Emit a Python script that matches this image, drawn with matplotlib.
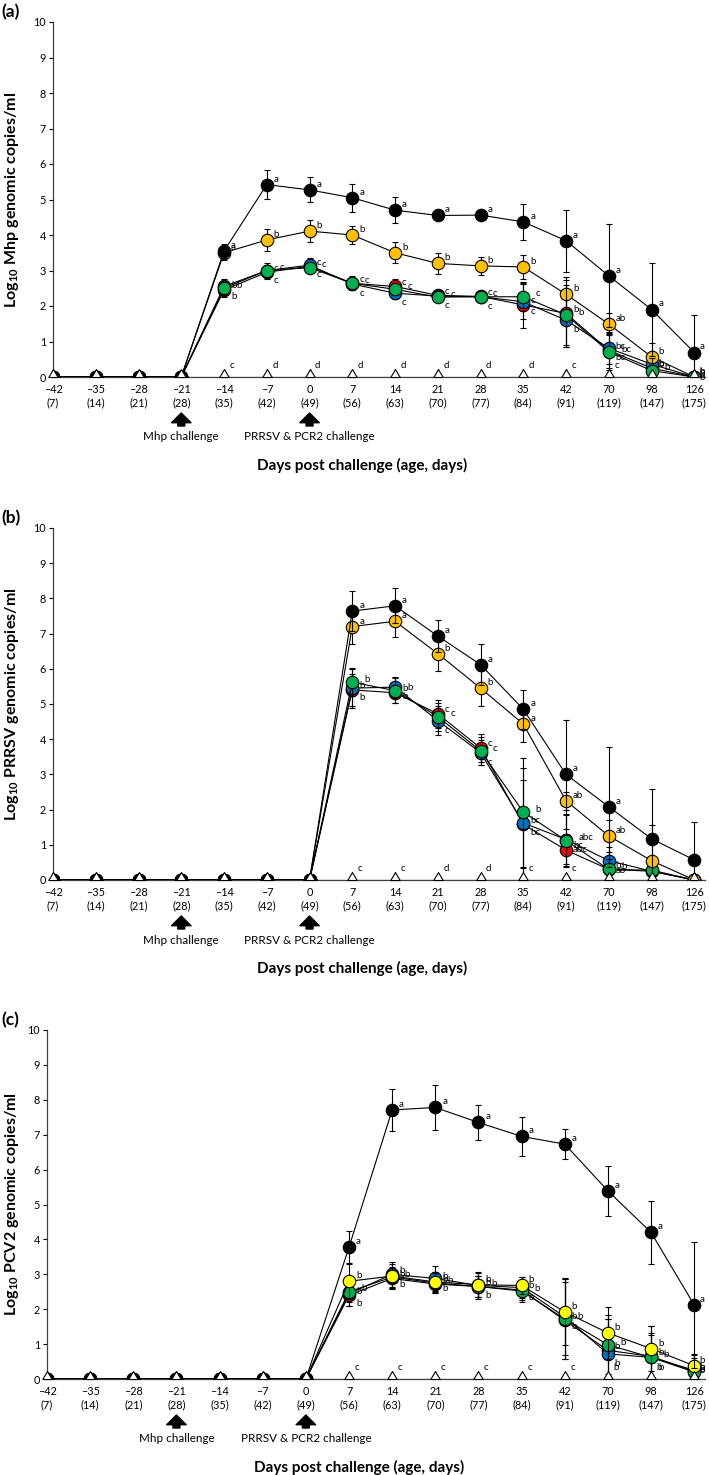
import numpy as np
import matplotlib.pyplot as plt
from matplotlib.path import Path

plt.rcParams['font.family'] = ['Lato', 'DejaVu Sans']
plt.rcParams['mathtext.fontset'] = 'custom'
plt.rcParams['mathtext.rm'] = 'Lato'
plt.rcParams['mathtext.bf'] = 'Lato:bold'

# sampling days (post challenge) and pig age
days = [-42, -35, -28, -21, -14, -7, 0, 7, 14, 21, 28, 35, 42, 70, 98, 126]
ages = [7, 14, 21, 28, 35, 42, 49, 56, 63, 70, 77, 84, 91, 119, 147, 175]
x_labels = [f"{d}\n({a})".replace("-", "\u2013") for d, a in zip(days, ages)]
events = [(-21, "Mhp challenge"), (0, "PRRSV & PCR2 challenge")]

colors = {'black': 'black', 'orange': '#FFC000', 'yellow': '#FFFF00',
          'red': '#FF0000', 'blue': '#0070C0', 'green': '#00B050'}

# ---- (a) Mhp ----
mhp_black = [0, 0, 0, 0, 3.55, 5.42, 5.27, 5.05, 4.70, 4.55, 4.56, 4.37, 3.84, 2.85, 1.90, 0.69]
mhp_black_err = [0, 0, 0, 0, 0.2, 0.4, 0.35, 0.4, 0.37, 0.12, 0.05, 0.5, 0.87, 1.45, 1.3, 1.05]
mhp_orange = [0, 0, 0, 0, 3.5, 3.86, 4.11, 4.0, 3.5, 3.2, 3.13, 3.1, 2.33, 1.49, 0.57, 0]
mhp_orange_err = [0, 0, 0, 0, 0.2, 0.3, 0.3, 0.25, 0.3, 0.3, 0.25, 0.35, 0.5, 0.3, 0.4, 0]
mhp_red = [0, 0, 0, 0, 2.45, 2.95, 3.12, 2.64, 2.55, 2.3, 2.27, 2.03, 1.79, 0.75, 0.25, 0]
mhp_red_err = [0, 0, 0, 0, 0.2, 0.2, 0.2, 0.2, 0.2, 0.15, 0.1, 0.65, 0.95, 0.5, 0.3, 0]
mhp_blue = [0, 0, 0, 0, 2.55, 3.0, 3.15, 2.62, 2.36, 2.28, 2.26, 2.12, 1.60, 0.81, 0.36, 0]
mhp_blue_err = [0, 0, 0, 0, 0.2, 0.2, 0.2, 0.15, 0.15, 0.1, 0.1, 0.5, 0.75, 0.45, 0.3, 0]
mhp_green = [0, 0, 0, 0, 2.5, 3.0, 3.08, 2.64, 2.47, 2.25, 2.26, 2.26, 1.75, 0.71, 0.18, 0]
mhp_green_err = [0, 0, 0, 0, 0.2, 0.15, 0.1, 0.15, 0.15, 0.1, 0.05, 0.4, 0.85, 0.5, 0.35, 0]
mhp_let_black = [''] * 4 + ['a'] * 12
mhp_let_orange = [''] * 4 + ['a', 'b', 'b', 'b', 'b', 'b', 'b', 'b', 'b', 'ab', 'b', 'b']
mhp_let_low = [''] * 4 + ['b', 'c', 'c', 'c', 'c', 'c', 'c', 'c', 'b', 'bc', 'b', 'b']
mhp_let_tri = [''] * 4 + ['c', 'd', 'd', 'd', 'd', 'd', 'd', 'd', 'c', 'c', '', '']

# ---- (b) PRRSV ----
prrsv_black = [0] * 7 + [7.64, 7.79, 6.93, 6.12, 4.85, 3.0, 2.08, 1.17, 0.57]
prrsv_black_err = [0] * 7 + [0.57, 0.5, 0.45, 0.58, 0.55, 1.55, 1.7, 1.42, 1.08]
prrsv_orange = [0] * 7 + [7.2, 7.35, 6.43, 5.45, 4.43, 2.25, 1.25, 0.55, 0]
prrsv_orange_err = [0] * 7 + [0.5, 0.45, 0.48, 0.5, 0.5, 0.25, 0.45, 1.0, 0]
prrsv_red = [0] * 7 + [5.4, 5.32, 4.72, 3.75, 1.58, 0.85, 0.3, 0.25, 0]
prrsv_red_err = [0] * 7 + [0.45, 0.3, 0.4, 0.4, 1.25, 0.45, 0.3, 0.2, 0]
prrsv_blue = [0] * 7 + [5.45, 5.48, 4.53, 3.62, 1.62, 1.15, 0.55, 0.25, 0]
prrsv_blue_err = [0] * 7 + [0.55, 0.3, 0.4, 0.35, 1.55, 0.7, 0.4, 0.25, 0]
prrsv_green = [0] * 7 + [5.62, 5.38, 4.64, 3.67, 1.93, 1.12, 0.3, 0.28, 0]
prrsv_green_err = [0] * 7 + [0.4, 0.35, 0.4, 0.4, 1.55, 0.75, 0.3, 0.3, 0]
prrsv_let_black = [''] * 7 + ['a'] * 7 + ['', '']
prrsv_let_orange = [''] * 7 + ['a', 'a', 'b', 'b', 'a', 'ab', 'ab', '', '']
prrsv_let_red = [''] * 7 + ['b', 'b', 'c', 'c', 'bc', 'bc', 'b', '', '']
prrsv_let_blue = [''] * 7 + ['b', 'b', 'c', 'c', 'bc', 'abc', 'ab', '', '']
prrsv_let_green = [''] * 7 + ['b', 'b', 'c', 'c', 'b', 'abc', 'b', '', '']
prrsv_let_tri = [''] * 7 + ['c', 'c', 'd', 'd', 'c', 'c', '', '', '']

# ---- (c) PCV2 ----
pcv2_black = [0] * 7 + [3.78, 7.71, 7.78, 7.35, 6.95, 6.73, 5.39, 4.2, 2.12]
pcv2_black_err = [0] * 7 + [0.45, 0.6, 0.65, 0.5, 0.55, 0.43, 0.72, 0.9, 1.8]
pcv2_yellow = [0] * 7 + [2.8, 2.95, 2.78, 2.7, 2.68, 1.92, 1.32, 0.87, 0.38]
pcv2_yellow_err = [0] * 7 + [0.5, 0.35, 0.3, 0.35, 0.25, 0.95, 0.75, 0.65, 0.35]
pcv2_red = [0] * 7 + [2.4, 2.88, 2.72, 2.65, 2.55, 1.68, 0.82, 0.65, 0.22]
pcv2_red_err = [0] * 7 + [0.3, 0.3, 0.25, 0.3, 0.3, 1.1, 0.9, 0.6, 0.3]
pcv2_blue = [0] * 7 + [2.45, 3.0, 2.88, 2.68, 2.62, 1.78, 0.72, 0.62, 0.25]
pcv2_blue_err = [0] * 7 + [0.35, 0.35, 0.35, 0.4, 0.3, 1.1, 1.0, 0.9, 0.45]
pcv2_green = [0] * 7 + [2.5, 2.92, 2.75, 2.65, 2.52, 1.72, 0.98, 0.62, 0.2]
pcv2_green_err = [0] * 7 + [0.3, 0.3, 0.3, 0.3, 0.3, 1.15, 0.85, 0.7, 0.4]
pcv2_let_black = [''] * 7 + ['a'] * 9
pcv2_let_low = [''] * 7 + ['b'] * 9
pcv2_let_tri = [''] * 7 + ['c'] * 6 + ['b'] * 3

# letter offsets (points) by group colour
offsets = {'black': (5, 4), 'orange': (5, 4), 'yellow': (5, 4), 'red': (5, 3),
           'green': (9, 2), 'blue': (5, -7), 'tri': (4, 5)}

# triangle sitting with its base on the data point
tri_marker = Path([(-0.5, 0), (0.5, 0), (0, 0.85), (-0.5, 0)],
                  [Path.MOVETO, Path.LINETO, Path.LINETO, Path.CLOSEPOLY])

W, H = 709, 1475
fig = plt.figure(figsize=(W / 100, H / 100), dpi=100)


def draw_panel(rect, series, tri_letters, ylabel, tag):
    l, t, r, b = rect
    ax = fig.add_axes([l / W, 1 - b / H, (r - l) / W, (b - t) / H])
    x = np.arange(len(days))
    for z, (cname, vals, errs, letters) in enumerate(series):
        ax.errorbar(x, vals, yerr=errs, fmt='-o', color='black', mfc=colors[cname],
                    mec='black', ms=9, mew=0.8, lw=0.8, elinewidth=0.8,
                    capsize=2.2, capthick=0.8, zorder=3 + z, clip_on=True)
        for xi, v, lab in zip(x, vals, letters):
            if lab:
                dx, dy = offsets[cname]
                if xi == len(days) - 1:
                    dx = min(dx, 4)  # keep the last letters inside the figure
                if dy < 0 and v < 0.4:
                    dy = 0  # do not run into the tick labels
                ax.annotate(lab, (xi, v), xytext=(dx, dy), textcoords='offset points',
                            fontsize=7, ha='left', va='center', annotation_clip=False)
    ax.plot(x, np.zeros(len(x)), '-', color='black', lw=0.8, zorder=19)
    ax.plot(x, np.zeros(len(x)), ls='none', marker=tri_marker, mfc='white', mec='black',
            ms=11.5, mew=0.8, zorder=20, clip_on=False)
    for xi, lab in zip(x, tri_letters):
        if lab:
            ax.annotate(lab, (xi, 0), xytext=offsets['tri'], textcoords='offset points',
                        fontsize=7, ha='left', va='bottom', annotation_clip=False)

    ax.set_xlim(0, 15.25)
    ax.set_ylim(0, 10)
    ax.set_yticks(range(0, 11))
    ax.set_xticks(x)
    ax.set_xticklabels(x_labels, fontsize=7.8, linespacing=1.3)
    ax.tick_params(axis='x', length=0, pad=5)
    ax.tick_params(axis='y', length=3, width=0.8, pad=2, labelsize=7.8)
    for s in ['top', 'right']:
        ax.spines[s].set_visible(False)
    for s in ['left', 'bottom']:
        ax.spines[s].set_linewidth(0.9)
        ax.spines[s].set_color('#404040')

    ax.set_ylabel(ylabel, fontsize=11.5, fontweight='bold')
    ax.yaxis.set_label_coords(-(l - 21) / (r - l), 0.5)

    hgt = b - t
    for d, txt in events:
        xi = days.index(d)
        ax.annotate('', xy=(xi, -36 / hgt), xytext=(xi, -49 / hgt),
                    xycoords=('data', 'axes fraction'), textcoords=('data', 'axes fraction'),
                    arrowprops=dict(facecolor='black', edgecolor='black', width=5,
                                    headwidth=14, headlength=7, shrink=0),
                    annotation_clip=False)
        ax.text(xi, -60 / hgt, txt, transform=ax.get_xaxis_transform(),
                ha='center', va='center', fontsize=8.4)
    ax.text(0.474, -88 / hgt, "Days post challenge (age, days)", transform=ax.transAxes,
            ha='center', va='center', fontsize=11, fontweight='bold')
    fig.text(1 / W, 1 - (t - 10) / H, tag, ha='left', va='center',
             fontsize=12.5, fontweight='bold')
    return ax


draw_panel((53, 22, 705, 377),
           [('red', mhp_red, mhp_red_err, mhp_let_low),
            ('blue', mhp_blue, mhp_blue_err, mhp_let_low),
            ('orange', mhp_orange, mhp_orange_err, mhp_let_orange),
            ('green', mhp_green, mhp_green_err, mhp_let_low),
            ('black', mhp_black, mhp_black_err, mhp_let_black)],
           mhp_let_tri, r'Log$_{\mathbf{10}}$ Mhp genomic copies/ml', '(a)')

draw_panel((53, 528, 705, 880),
           [('red', prrsv_red, prrsv_red_err, prrsv_let_red),
            ('blue', prrsv_blue, prrsv_blue_err, prrsv_let_blue),
            ('green', prrsv_green, prrsv_green_err, prrsv_let_green),
            ('orange', prrsv_orange, prrsv_orange_err, prrsv_let_orange),
            ('black', prrsv_black, prrsv_black_err, prrsv_let_black)],
           prrsv_let_tri, r'Log$_{\mathbf{10}}$ PRRSV genomic copies/ml', '(b)')

draw_panel((47, 1030, 705, 1379),
           [('red', pcv2_red, pcv2_red_err, pcv2_let_low),
            ('blue', pcv2_blue, pcv2_blue_err, pcv2_let_low),
            ('green', pcv2_green, pcv2_green_err, pcv2_let_low),
            ('yellow', pcv2_yellow, pcv2_yellow_err, pcv2_let_low),
            ('black', pcv2_black, pcv2_black_err, pcv2_let_black)],
           pcv2_let_tri, r'Log$_{\mathbf{10}}$ PCV2 genomic copies/ml', '(c)')

fig.savefig('out.png', dpi=100)
